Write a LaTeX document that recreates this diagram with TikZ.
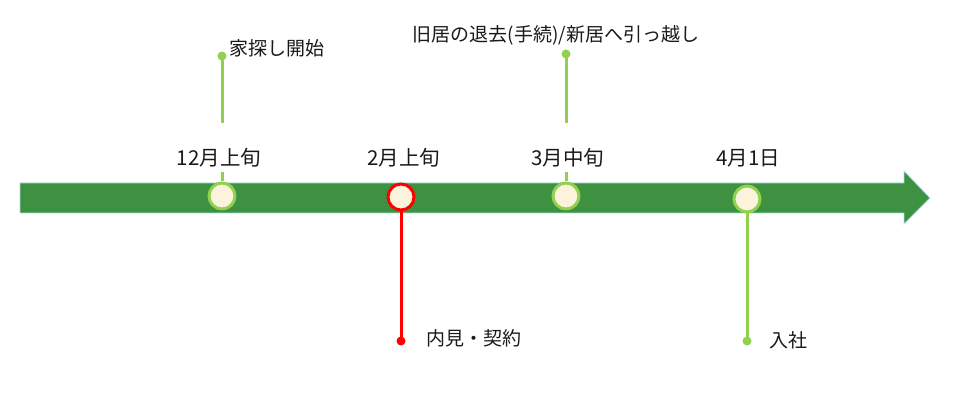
\documentclass[tikz,border=0pt]{standalone}
\usepackage{fontspec}
\setmainfont{Noto Sans CJK JP}
\begin{document}
\begin{tikzpicture}[x=1pt,y=-1pt,
  lbl/.style={inner sep=0pt,font=\fontsize{19}{21}\selectfont,text=black!90},
  dlbl/.style={lbl,font=\fontsize{20.5}{22}\selectfont},
  mask/.style={fill=white,inner sep=0pt,minimum width=96pt,minimum height=49pt},
  ring/.style={circle,draw=#1,line width=3pt,fill=cream,minimum size=26pt,inner sep=0pt},
  stem/.style={draw=#1,line width=3pt},
  pin/.style={circle,fill=#1,minimum size=9pt,inner sep=0pt}]
\definecolor{cream}{HTML}{FCF3DC}
\definecolor{lgreen}{HTML}{92D050}
\definecolor{dgreen}{HTML}{3E9140}
\definecolor{edge}{HTML}{A6DDE6}
\useasboundingbox (0,0) rectangle (970,403);
% arrow
\draw[fill=dgreen,draw=edge,line width=0.8pt] (20,183) -- (904,183) -- (904,171) -- (930,198) -- (904,224) -- (904,213) -- (20,213) -- cycle;
% pins and rings
\node[pin=lgreen] (p1) at (222,56) {};
\node[pin=lgreen] (p3) at (566,54) {};
\node[pin=red] (p2) at (401,341) {};
\node[pin=lgreen] (p4) at (747,341) {};
\node[ring=lgreen] (r1) at (222,196) {};
\node[ring=red] (r2) at (401,197) {};
\node[ring=lgreen] (r3) at (566,196) {};
\node[ring=lgreen] (r4) at (747,199) {};
\draw[stem=lgreen] (p1.center) -- (r1.north);
\draw[stem=lgreen] (p3.center) -- (r3.north);
\draw[stem=red] (p2.center) -- (r2.south);
\draw[stem=lgreen] (p4.center) -- (r4.south);
% white label boxes
\node[mask] (b1) at (219,147.5) {};
\node[mask] (b3) at (568,147.5) {};
% labels
\node[dlbl] (t1) at (219,158) {12月上旬};
\node[dlbl] (t2) at (404,158) {2月上旬};
\node[dlbl] (t3) at (568,158) {3月中旬};
\node[dlbl] (t4) at (748,158) {4月1日};
\node[lbl,anchor=west] (e1) at (229,48) {家探し開始};
\node[lbl] (e3) at (556,35) {旧居の退去(手続)/新居へ引っ越し};
\node[lbl,anchor=west] (e2) at (426,338) {内見・契約};
\node[lbl,anchor=west] (e4) at (769,340) {入社};
\end{tikzpicture}
\end{document}
